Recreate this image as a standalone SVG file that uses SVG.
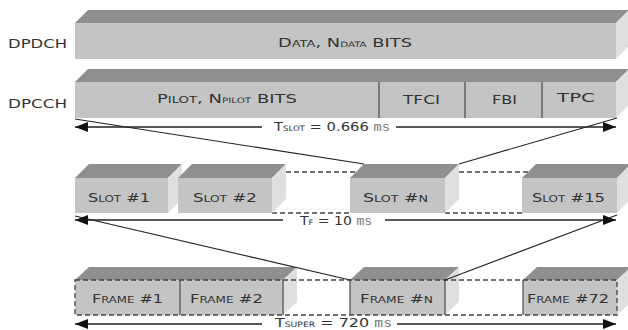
<svg xmlns="http://www.w3.org/2000/svg" width="628" height="330" viewBox="0 0 628 330">
<style>
.front{fill:#c4c4c4}
.top{fill:#8f8f8f}
.side{fill:#dfdfdf}
.div{stroke:#4a4a4a;stroke-width:1.2}
.dash{fill:none;stroke:#444;stroke-width:1.3;stroke-dasharray:5 3}
.conn{fill:none;stroke:#222;stroke-width:1.1}
.arr{fill:none;stroke:#222;stroke-width:1.3;marker-end:url(#ah)}
text{font-family:"DejaVu Sans","Liberation Sans",sans-serif;fill:#333;font-size:13px}
.sc{font-size:9.5px}
.sub{font-size:7.5px}
.ms{font-family:"Liberation Mono","DejaVu Sans Mono",monospace;fill:#777;font-size:12px}
</style>
<defs>
<marker id="ah" markerUnits="userSpaceOnUse" markerWidth="14" markerHeight="10" refX="13" refY="5" orient="auto">
<path d="M0,0 L13,5 L0,10 z" fill="#111"/>
</marker>
</defs>

<g id="label-dpdch"><text x="8" y="48" font-size="12.5" textLength="59" lengthAdjust="spacingAndGlyphs">DPDCH</text></g>
<g id="label-dpcch"><text x="8" y="108" font-size="12.5" textLength="59" lengthAdjust="spacingAndGlyphs">DPCCH</text></g>

<g id="dpdch">
<polygon class="top" points="75,23 88,10 629,10 616,23"/>
<polygon class="side" points="616,23 629,10 629,46 616,59"/>
<rect class="front" x="75" y="23" width="541" height="36"/>
<text x="278" y="47" textLength="134" lengthAdjust="spacingAndGlyphs">D<tspan class="sc">ATA</tspan>, N<tspan class="sub">DATA</tspan> BITS</text>
</g>

<g id="dpcch">
<polygon class="top" points="75,82 88,69 629,69 616,82"/>
<polygon class="side" points="616,82 629,69 629,105 616,118"/>
<rect class="front" x="75" y="82" width="541" height="36"/>
<line class="div" x1="379" y1="82" x2="379" y2="118"/>
<line class="div" x1="465" y1="82" x2="465" y2="118"/>
<line class="div" x1="542" y1="82" x2="542" y2="118"/>
<text x="157" y="103" textLength="140" lengthAdjust="spacingAndGlyphs">P<tspan class="sc">ILOT</tspan>, N<tspan class="sub">PILOT</tspan> BITS</text>
<text x="403" y="104" textLength="37" lengthAdjust="spacingAndGlyphs">TFCI</text>
<text x="492" y="104" textLength="25" lengthAdjust="spacingAndGlyphs">FBI</text>
<text x="557" y="102" textLength="38" lengthAdjust="spacingAndGlyphs">TPC</text>
</g>

<g id="slot-gaps">
<line class="dash" x1="286" y1="172" x2="357" y2="172"/>
<line class="dash" x1="272" y1="213" x2="350" y2="213"/>
<line class="dash" x1="459" y1="172" x2="529" y2="172"/>
<line class="dash" x1="445" y1="213" x2="522" y2="213"/>
</g>

<g id="slot-1">
<polygon class="top" points="75,178 89,164 182,164 168,178"/>
<polygon class="side" points="168,178 182,164 182,199 168,213"/>
<rect class="front" x="75" y="178" width="93" height="35"/>
<text x="88" y="202" textLength="62" lengthAdjust="spacingAndGlyphs">S<tspan class="sc">LOT</tspan> #1</text>
</g>
<g id="slot-2">
<polygon class="top" points="178,178 192,164 286,164 272,178"/>
<polygon class="side" points="272,178 286,164 286,199 272,213"/>
<rect class="front" x="178" y="178" width="94" height="35"/>
<text x="193" y="202" textLength="64" lengthAdjust="spacingAndGlyphs">S<tspan class="sc">LOT</tspan> #2</text>
</g>
<g id="slot-n">
<polygon class="top" points="350,178 364,164 459,164 445,178"/>
<polygon class="side" points="445,178 459,164 459,199 445,213"/>
<rect class="front" x="350" y="178" width="95" height="35"/>
<text x="363" y="202" textLength="65" lengthAdjust="spacingAndGlyphs">S<tspan class="sc">LOT</tspan> #<tspan class="sc">N</tspan></text>
</g>
<g id="slot-15">
<polygon class="top" points="522,178 536,164 631,164 617,178"/>
<polygon class="side" points="617,178 631,164 631,199 617,213"/>
<rect class="front" x="522" y="178" width="95" height="35"/>
<text x="532" y="202" textLength="73" lengthAdjust="spacingAndGlyphs">S<tspan class="sc">LOT</tspan> #15</text>
</g>

<g id="frames-1-2">
<polygon class="top" points="75,280 89,267 297,267 283,280"/>
<polygon class="side" points="283,280 297,267 297,302 283,315"/>
<rect class="front" x="75" y="280" width="208" height="35"/>
<line class="div" x1="180" y1="280" x2="180" y2="315"/>
<line class="div" x1="283" y1="280" x2="283" y2="315"/>
<text x="92" y="303" textLength="71" lengthAdjust="spacingAndGlyphs">F<tspan class="sc">RAME</tspan> #1</text>
<text x="190" y="303" textLength="73" lengthAdjust="spacingAndGlyphs">F<tspan class="sc">RAME</tspan> #2</text>
</g>
<g id="frame-n">
<polygon class="top" points="350,280 364,267 459,267 445,280"/>
<polygon class="side" points="445,280 459,267 459,302 445,315"/>
<rect class="front" x="350" y="280" width="95" height="35"/>
<line class="div" x1="350" y1="280" x2="350" y2="315"/>
<line class="div" x1="445" y1="280" x2="445" y2="315"/>
<text x="360" y="303" textLength="73" lengthAdjust="spacingAndGlyphs">F<tspan class="sc">RAME</tspan> #<tspan class="sc">N</tspan></text>
</g>
<g id="frame-72">
<polygon class="top" points="523,280 537,267 631,267 617,280"/>
<polygon class="side" points="617,280 631,267 631,302 617,315"/>
<rect class="front" x="523" y="280" width="94" height="35"/>
<line class="div" x1="523" y1="280" x2="523" y2="315"/>
<text x="527" y="303" textLength="82" lengthAdjust="spacingAndGlyphs">F<tspan class="sc">RAME</tspan> #72</text>
</g>
<g id="frame-outline">
<rect class="dash" x="75" y="280" width="542" height="35"/>
</g>

<g id="connectors">
<line class="conn" x1="75" y1="119" x2="364" y2="164"/>
<line class="conn" x1="617" y1="118" x2="459" y2="164"/>
<line class="conn" x1="75" y1="216" x2="350" y2="280"/>
<line class="conn" x1="617" y1="215" x2="445" y2="280"/>
<line class="arr" x1="262" y1="127" x2="75" y2="127"/>
<line class="arr" x1="396" y1="127" x2="616" y2="127"/>
<line class="arr" x1="283" y1="220" x2="75" y2="220"/>
<line class="arr" x1="385" y1="220" x2="616" y2="220"/>
<line class="arr" x1="262" y1="324" x2="75" y2="324"/>
<line class="arr" x1="397" y1="324" x2="616" y2="324"/>
</g>

<g id="durations">
<text x="275" y="326.5" font-size="12" textLength="117" lengthAdjust="spacingAndGlyphs">T<tspan class="sub">SUPER</tspan> = 720 <tspan class="ms" font-size="10.5">ms</tspan></text>
<text x="274" y="131" textLength="116" lengthAdjust="spacingAndGlyphs">T<tspan class="sub">SLOT</tspan> = 0.666 <tspan class="ms">ms</tspan></text>
<text x="300" y="225" textLength="72" lengthAdjust="spacingAndGlyphs">T<tspan class="sub">F</tspan> = 10 <tspan class="ms">ms</tspan></text>
</g>
</svg>
